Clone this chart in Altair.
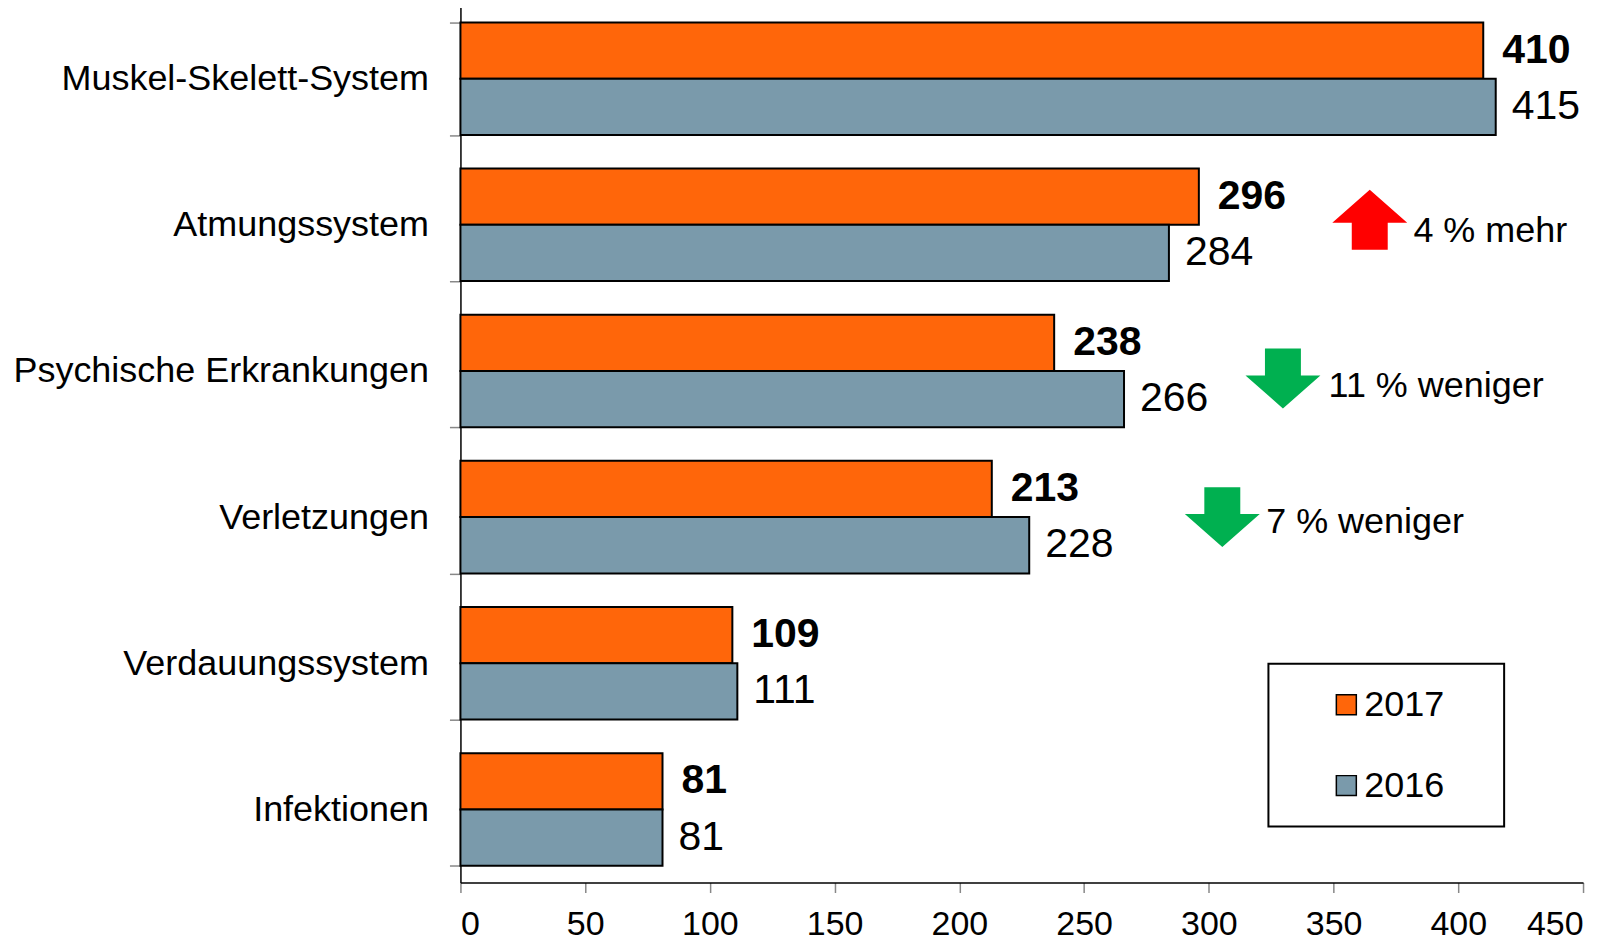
import altair as alt
import pandas as pd

categories = ["Muskel-Skelett-System", "Atmungssystem", "Psychische Erkrankungen",
              "Verletzungen", "Verdauungssystem", "Infektionen"]
values_2017 = [410, 296, 238, 213, 109, 81]
values_2016 = [415, 284, 266, 228, 111, 81]
years = ["2017", "2016"]
x_ticks = [0, 50, 100, 150, 200, 250, 300, 350, 400, 450]

ann_categories = ["Atmungssystem", "Psychische Erkrankungen", "Verletzungen"]
ann_texts = ["4 % mehr", "11 % weniger", "7 % weniger"]
ann_direction = ["up", "down", "down"]
ann_arrow_x = [364.5, 329.7, 305.4]
ann_text_x = [382, 348, 323]

FONT = "Liberation Sans"
ORANGE = "#FF660A"
BLUE = "#7A9AAB"
BLANK = "\u2800"

rows = []
for c, v17, v16 in zip(categories, values_2017, values_2016):
    rows.append({"category": c, "year": "2017", "value": v17})
    rows.append({"category": c, "year": "2016", "value": v16})
df = pd.DataFrame(rows)

ann = pd.DataFrame({"category": ann_categories, "text": ann_texts,
                    "direction": ann_direction, "ax": ann_arrow_x, "tx": ann_text_x})

x_enc = alt.X("value:Q", scale=alt.Scale(domain=[0, 450], nice=False),
              axis=alt.Axis(values=x_ticks, title=None, grid=False, labelFontSize=34,
                            labelFont=FONT, labelColor="black", tickSize=10,
                            tickColor="#888888", tickWidth=1.5, domainColor="black",
                            domainWidth=1.5, labelPadding=15))
y_enc = alt.Y("category:N", sort=categories,
              scale=alt.Scale(domain=categories, paddingInner=0.23, paddingOuter=0.115),
              axis=alt.Axis(title=None, labelFontSize=36, labelFont=FONT, labelColor="black",
                            labelPadding=21, labelLimit=600, tickSize=11, tickColor="#888888",
                            tickWidth=1.5, tickBand="extent", domainColor="black",
                            domainWidth=1.5))
yoff_enc = alt.YOffset("year:N", sort=years,
                       scale=alt.Scale(domain=years, paddingInner=0, paddingOuter=0))

bars = alt.Chart(df).mark_bar(stroke="black", strokeWidth=2).encode(
    x=x_enc, y=y_enc, yOffset=yoff_enc,
    color=alt.Color("year:N", scale=alt.Scale(domain=years, range=[ORANGE, BLUE]),
                    legend=alt.Legend(title=None, orient="none", legendX=809, legendY=659,
                                      padding=23, strokeColor="black",
                                      symbolType="square", symbolSize=400,
                                      symbolStrokeColor="black", symbolStrokeWidth=1.5,
                                      symbolOffset=37, labelOffset=0,
                                      labelFontSize=36, labelFont=FONT, labelColor="black",
                                      rowPadding=45,
                                      labelExpr="datum.label + ' " + BLANK + "'"))
)

lab17 = alt.Chart(df).transform_filter(alt.datum.year == "2017").mark_text(
    align="left", baseline="middle", dx=19, fontSize=41, fontWeight="bold",
    font=FONT, color="black").encode(x="value:Q", y=y_enc, yOffset=yoff_enc, text="value:Q")
lab16 = alt.Chart(df).transform_filter(alt.datum.year == "2016").mark_text(
    align="left", baseline="middle", dx=16, fontSize=41,
    font=FONT, color="black").encode(x="value:Q", y=y_enc, yOffset=yoff_enc, text="value:Q")

UP = "M0,-0.8 L1,0.08 L0.48,0.08 L0.48,0.8 L-0.48,0.8 L-0.48,0.08 L-1,0.08 Z"
DOWN = "M-0.48,-0.8 L0.48,-0.8 L0.48,-0.08 L1,-0.08 L0,0.8 L-1,-0.08 L-0.48,-0.08 Z"

arrow_nudge = [-5, 7.5, 0]
text_nudge = [6, 15, 5]

ann_layers = []
for i, cat in enumerate(ann_categories):
    up = ann_direction[i] == "up"
    sub = alt.Chart(ann).transform_filter(alt.datum.category == cat)
    ann_layers.append(sub.mark_point(
        shape=UP if up else DOWN, size=5625, filled=True, opacity=1,
        color="#FF0000" if up else "#00B050", strokeWidth=0, yOffset=arrow_nudge[i]).encode(
        x=alt.X("ax:Q"), y=alt.Y("category:N", sort=categories)))
    ann_layers.append(sub.mark_text(
        align="left", baseline="middle", fontSize=36, dy=text_nudge[i],
        font=FONT, color="black").encode(
        x=alt.X("tx:Q"), y=alt.Y("category:N", sort=categories), text="text:N"))

chart = alt.layer(bars, lab17, lab16, *ann_layers).properties(
    width=1124, height=878,
    padding={"left": 453, "top": -3, "right": 30, "bottom": 58},
    autosize="none",
).configure_view(stroke=None).configure_legend(strokeWidth=2)

chart.save("out.html", embed_options={"renderer": "svg", "actions": False})
